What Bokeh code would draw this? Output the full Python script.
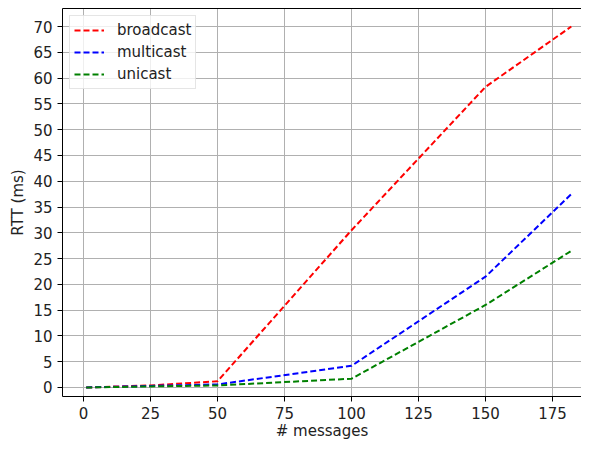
from bokeh.plotting import figure
from bokeh.models import Range1d, FixedTicker, LinearAxis, Legend, LegendItem
from bokeh.embed import file_html
from bokeh.resources import INLINE

messages = [1, 25, 50, 100, 150, 182]
broadcast = [0.0, 0.4, 1.2, 30.5, 58.3, 70.0]
multicast = [0.0, 0.3, 0.6, 4.2, 21.5, 37.5]
unicast = [0.0, 0.2, 0.4, 1.7, 16.0, 26.5]
x_ticks = [0, 25, 50, 75, 100, 125, 150, 175]
y_ticks = list(range(0, 75, 5))

FONT = "DejaVu Sans"
FS = "15px"
p = figure(width=581, height=442, output_backend="svg", toolbar_location=None,
           x_range=Range1d(-7.84, 185.8), y_range=Range1d(-1.75, 73.5),
           min_border_left=62, min_border_right=0, min_border_top=8, min_border_bottom=36)
p.outline_line_color = None
p.background_fill_color = "white"

for ax in (p.xaxis[0], p.yaxis[0]):
    ax.axis_line_color = "black"
    ax.axis_line_width = 1
    ax.major_tick_line_color = "black"
    ax.major_tick_out = 5
    ax.major_tick_in = 0
    ax.minor_tick_line_color = None
    ax.major_label_text_font = FONT
    ax.major_label_text_font_size = FS
    ax.major_label_text_color = "#222222"
    ax.major_label_standoff = 5
    ax.axis_label_text_font = FONT
    ax.axis_label_text_font_size = FS
    ax.axis_label_text_font_style = "normal"
    ax.axis_label_text_color = "#222222"

p.xaxis[0].ticker = FixedTicker(ticks=x_ticks)
p.yaxis[0].ticker = FixedTicker(ticks=y_ticks)
p.xaxis[0].axis_label = "# messages"
p.yaxis[0].axis_label = "RTT (ms)"
p.xaxis[0].axis_label_standoff = 0
p.yaxis[0].axis_label_standoff = 3

top = LinearAxis(ticker=FixedTicker(ticks=[]), axis_line_color="black",
                 major_tick_line_color=None, minor_tick_line_color=None,
                 major_label_text_font_size="0px")
p.add_layout(top, "above")

p.xgrid.ticker = FixedTicker(ticks=x_ticks)
p.ygrid.ticker = FixedTicker(ticks=y_ticks)
for g in (p.xgrid[0], p.ygrid[0]):
    g.grid_line_color = "#b0b0b0"
    g.grid_line_width = 1

r1 = p.line(messages, broadcast, line_color="#ff0000", line_width=2, line_dash="6 3")
r2 = p.line(messages, multicast, line_color="#0000ff", line_width=2, line_dash="6 3")
r3 = p.line(messages, unicast, line_color="#008000", line_width=2, line_dash="6 3")

legend = Legend(items=[LegendItem(label="broadcast", renderers=[r1]),
                       LegendItem(label="multicast", renderers=[r2]),
                       LegendItem(label="unicast", renderers=[r3])],
                location="top_left", margin=7, padding=4, spacing=2,
                glyph_width=30, glyph_height=20, label_standoff=13,
                label_text_font=FONT, label_text_font_size=FS,
                label_text_color="#222222",
                border_line_color="#cccccc", border_line_width=1,
                background_fill_color="white", background_fill_alpha=0.8)
p.add_layout(legend, "center")

open("out.html", "w").write(file_html(p, INLINE))
